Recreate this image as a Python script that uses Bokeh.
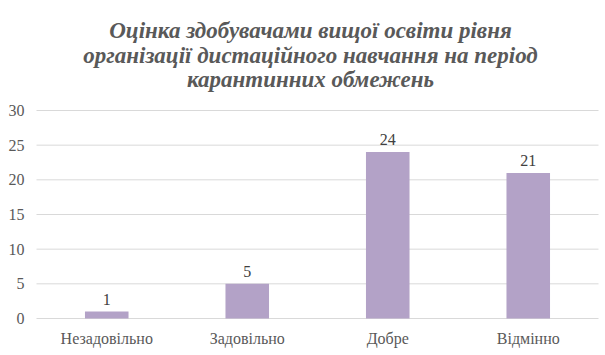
from bokeh.plotting import figure
from bokeh.models import ColumnDataSource, Range1d
from bokeh.core.properties import value
from bokeh.embed import file_html
from bokeh.resources import INLINE

categories = ["Незадовільно", "Задовільно", "Добре", "Відмінно"]
values = [1, 5, 24, 21]
labels = [str(v) for v in values]
y_ticks = [0, 5, 10, 15, 20, 25, 30]
title_lines = ["Оцінка здобувачами вищої освіти рівня",
               "організації дистаційного навчання на період",
               "карантинних обмежень"]

FONT = value("Liberation Serif, DejaVu Serif, serif")
TXT = "#595959"
W, H = 605, 355
PLOT_L, PLOT_R, PLOT_T, PLOT_B = 36, 598, 110, 318  # pixel box of the plot area

n = len(categories)
ymax = max(y_ticks)
xs = [i + 0.5 for i in range(n)]
ppx = (PLOT_R - PLOT_L) / n          # pixels per category
ppy = (PLOT_B - PLOT_T) / ymax       # pixels per unit
x_range = Range1d(-PLOT_L / ppx, n + (W - PLOT_R) / ppx)
y_range = Range1d(-(H - PLOT_B) / ppy, ymax + PLOT_T / ppy)

src = ColumnDataSource(data=dict(x=xs, cat=categories, val=values, lab=labels,
                                 zero=[0] * n))
gsrc = ColumnDataSource(data=dict(x0=[0] * len(y_ticks), x1=[n] * len(y_ticks),
                                  y=y_ticks, lab=[str(t) for t in y_ticks]))
tsrc = ColumnDataSource(data=dict(x=[n / 2] * len(title_lines), y=[ymax] * len(title_lines),
                                  lab=title_lines, off=[-80, -55.5, -31]))

p = figure(width=W, height=H, output_backend="svg", toolbar_location=None,
           x_range=x_range, y_range=y_range, min_border=0)
p.background_fill_color = "white"
p.border_fill_color = "white"
p.outline_line_color = None
p.title.visible = False
p.xaxis.visible = False
p.yaxis.visible = False
p.xgrid.visible = False
p.ygrid.visible = False

# gridlines
p.segment(x0="x0", y0="y", x1="x1", y1="y", source=gsrc, line_color="#d9d9d9", line_width=1)

p.vbar(x="x", top="val", width=0.31, source=src, fill_color="#b3a2c7", line_color=None)

# value labels
p.text(x="x", y="val", text="lab", source=src, text_align="center",
       text_baseline="bottom", y_offset=-7, text_font=FONT,
       text_font_size="16px", text_color="#404040")
# category labels
p.text(x="x", y="zero", text="cat", source=src, text_align="center",
       text_baseline="middle", y_offset=20, text_font=FONT,
       text_font_size="16px", text_color=TXT)
# y tick labels
p.text(x="x0", y="y", text="lab", source=gsrc, text_align="right",
       text_baseline="middle", x_offset=-12, text_font=FONT,
       text_font_size="16px", text_color=TXT)
# title
p.text(x="x", y="y", text="lab", source=tsrc, text_align="center",
       text_baseline="alphabetic", x_offset=-7, y_offset="off",
       text_font=FONT, text_font_style="bold italic",
       text_font_size="23px", text_color=TXT)

open("out.html", "w").write(file_html(p, INLINE))
